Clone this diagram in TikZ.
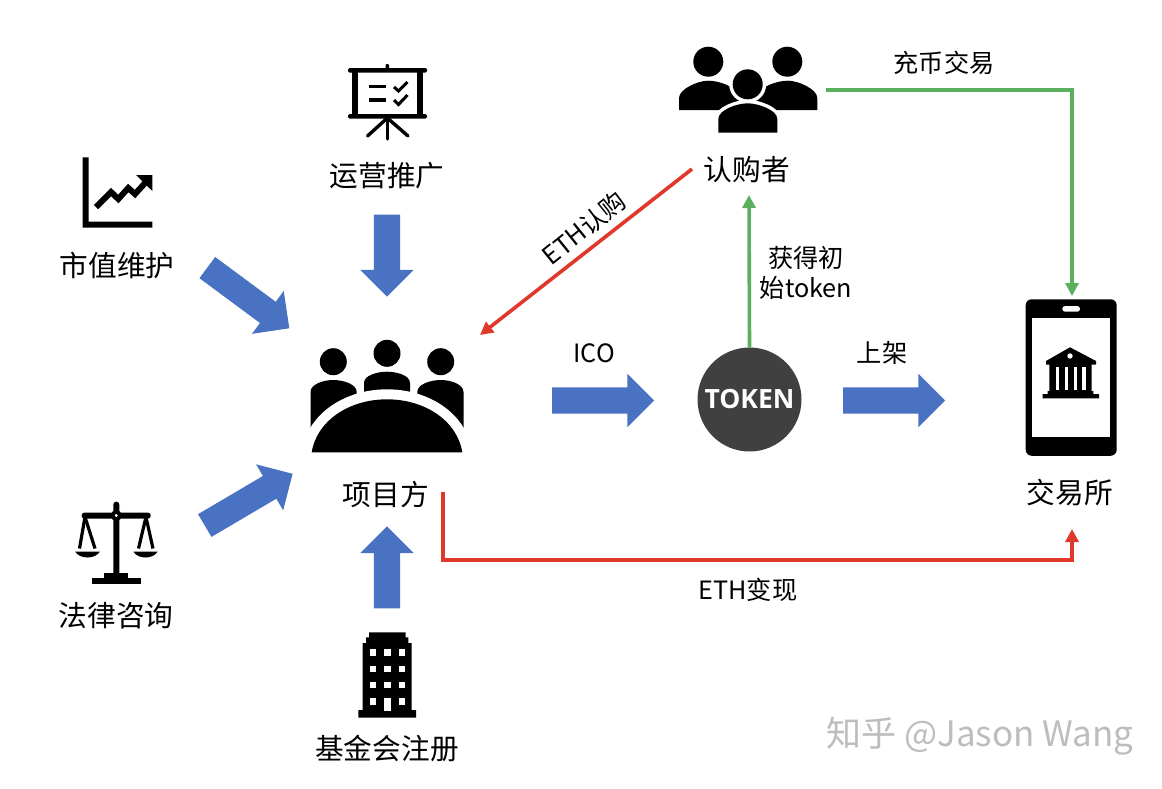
\documentclass[tikz,border=0pt]{standalone}
\usepackage{fontspec}
\setmainfont{Noto Sans CJK SC}
\newfontfamily\latfont{Open Sans}
\usetikzlibrary{arrows.meta,shapes.arrows,calc}
\definecolor{wideblue}{HTML}{4A72C2}
\definecolor{linered}{HTML}{E0392B}
\definecolor{linegreen}{HTML}{5BB05F}
\definecolor{tokengray}{HTML}{404040}
\definecolor{markgray}{HTML}{BDBDBD}
\tikzset{
  widearrow/.style={single arrow,draw=none,fill=wideblue,minimum width=53pt,
    single arrow head extend=13.5pt,single arrow head indent=0pt,single arrow tip angle=90,
    inner xsep=0pt,inner ysep=13pt,outer sep=0pt,anchor=center},
  biglabel/.style={font=\fontsize{28.7}{32}\selectfont,inner sep=0pt,anchor=center},
  smalllabel/.style={font=\fontsize{25.2}{30}\selectfont,inner sep=0pt,anchor=center},
  redline/.style={draw=linered,line width=3.6pt,-{Triangle[length=13pt,width=13pt]}},
  greenline/.style={draw=linegreen,line width=3.6pt,-{Triangle[length=13pt,width=13pt]}},
  icon/.style={fill=black,draw=none},
  iconline/.style={draw=black,line cap=round},
  iconcut/.style={fill=white,draw=none},
}
\begin{document}
\begin{tikzpicture}[x=1pt,y=-1pt]
\useasboundingbox[fill=white] (0,0) rectangle (1162,788);

% presentation board icon
\fill[icon,rounded corners=1.5pt] (348,68) rectangle (427,72.5);
\fill[icon,rounded corners=1.5pt] (348,114) rectangle (427,118.5);
\fill[icon,rounded corners=1pt] (385.5,64) rectangle (389,69);
\fill[icon] (352,72) rectangle (358,114);
\fill[icon] (417,72) rectangle (423,114);
\draw[iconline,line width=3.4pt] (387.3,118) -- (387.3,139);
\draw[iconline,line width=3.4pt] (387.3,118) -- (367.5,136);
\draw[iconline,line width=3.4pt] (387.3,118) -- (408,136);
\draw[black,line width=3.3pt] (369,86.7) -- (386,86.7);
\draw[black,line width=3.3pt] (369,100) -- (386,100);
\draw[iconline,line width=3pt,line cap=butt] (394,87) -- (398.5,91) -- (407.5,82);
\draw[iconline,line width=3pt,line cap=butt] (394,100) -- (398.5,104.5) -- (407.5,95);

% chart icon
\fill[icon] (82.7,157.3) -- (88.7,157.3) -- (88.7,221.7) -- (152.3,221.7) -- (152.3,227.5) -- (82.7,227.5) -- cycle;
\draw[black,line width=6pt] (96,207) -- (111,192) -- (118.3,199) -- (128.3,188) -- (135,194) -- (146,182);
\fill[icon] (136,175) -- (152.3,175) -- (152.3,191) -- cycle;

% scales icon
\fill[icon,rounded corners=2.8pt] (113.3,501.7) rectangle (119.3,578);
\fill[icon,rounded corners=2.5pt] (81.7,512.7) rectangle (150.7,518.5);
\fill[icon] (116.3,515.5) circle (5.5pt);
\fill[iconcut] (116.3,515.5) circle (1.6pt);
\draw[black,line width=3.2pt] (85,517) -- (79.5,548.5);
\draw[black,line width=3.2pt] (85,517) -- (95,548.5);
\draw[black,line width=3.2pt] (146,517) -- (138.5,548.5);
\draw[black,line width=3.2pt] (146,517) -- (153,548.5);
\fill[icon] (75,551.5) .. controls (80,559.5) and (95,559.5) .. (100,551.5) -- cycle;
\fill[icon] (133.3,551.5) .. controls (138,559.5) and (153,559.5) .. (157.7,551.5) -- cycle;
\fill[icon] (104.3,573.3) rectangle (128.3,578);
\fill[icon] (92.3,577.5) rectangle (141,584);

% building icon
\fill[icon] (369,632.3) -- (405.7,632.3) -- (405.7,637.3) -- (408.3,637.3) -- (408.3,643) -- (411.7,643)
  -- (411.7,710) -- (416,710) -- (416,717.7) -- (358.3,717.7) -- (358.3,710) -- (362.7,710) -- (362.7,643)
  -- (366,643) -- (366,637.3) -- (369,637.3) -- cycle;
\foreach \cx in {373,387.3,402}{\foreach \cy in {652.3,668.7,685}{
  \fill[iconcut] (\cx-3.2,\cy-3.2) rectangle (\cx+3.2,\cy+3.2);}}
\fill[iconcut] (369.8,698.1) rectangle (376.2,704.5);
\fill[iconcut] (398.8,698.1) rectangle (405.2,704.5);
\fill[iconcut] (384.2,698.3) rectangle (390.6,710.6);

% meeting icon
\fill[icon] (387,353.3) circle (13.5pt);
\fill[icon] (333.3,361.7) circle (13.5pt);
\fill[icon] (440.7,361.7) circle (13.5pt);
\fill[icon] (364,395) -- (364,383) .. controls (364,375) and (378,371.7) .. (387,371.7)
  .. controls (396,371.7) and (410,375) .. (410,383) -- (410,395) -- cycle;
\fill[icon] (310.5,428) -- (310.5,392) .. controls (310.5,384) and (324,380) .. (333,380)
  .. controls (343,380) and (356.7,384) .. (356.7,392) -- (356.7,420) -- cycle;
\fill[icon] (463.5,428) -- (463.5,392) .. controls (463.5,384) and (450,380) .. (441,380)
  .. controls (431,380) and (417.3,384) .. (417.3,392) -- (417.3,420) -- cycle;
\path[fill=black,draw=white,line width=20pt] (311.7,452.3) .. controls (317,420) and (350,399.3) .. (387,399.3)
  .. controls (424,399.3) and (457,420) .. (462.3,452.3) -- cycle;
\fill[iconcut] (295,452.3) rectangle (480,470);
\fill[icon] (311.7,452.3) .. controls (317,420) and (350,399.3) .. (387,399.3)
  .. controls (424,399.3) and (457,420) .. (462.3,452.3) -- cycle;

% buyers icon
\fill[icon] (708.3,61.7) circle (15pt);
\fill[icon] (787.3,61.7) circle (15pt);
\fill[icon] (679,110) -- (679,98) .. controls (679,89) and (698,80.7) .. (708,80.7)
  .. controls (720,80.7) and (735,87) .. (740,95) -- (740,110) -- cycle;
\fill[icon] (817.3,110) -- (817.3,98) .. controls (817.3,89) and (798,80.7) .. (788,80.7)
  .. controls (776,80.7) and (761,87) .. (756,95) -- (756,110) -- cycle;
\path[draw=white,line width=7pt] (747.7,84.3) circle (15pt);
\path[fill=white,draw=white,line width=7pt] (718.3,132.7) -- (718.3,119) .. controls (718.3,110) and (737,103.3) .. (747.7,103.3)
  .. controls (758,103.3) and (777.3,110) .. (777.3,119) -- (777.3,132.7) -- cycle;
\fill[icon] (718.3,132.7) -- (718.3,119) .. controls (718.3,110) and (737,103.3) .. (747.7,103.3)
  .. controls (758,103.3) and (777.3,110) .. (777.3,119) -- (777.3,132.7) -- cycle;
\fill[icon] (747.7,84.3) circle (15pt);

% exchange phone icon
\node[draw=none,fill=black,rounded corners=6pt,minimum width=91pt,minimum height=156.5pt,inner sep=0pt,outer sep=0pt] (phone) at (1071.2,377.5) {};
\fill[iconcut] (1032.3,318.3) rectangle (1110,436.7);
\fill[iconcut,rounded corners=2.8pt] (1062.3,306) rectangle (1080,311.7);
\fill[icon] (1070,347.3) -- (1096,361) -- (1096,364.5) -- (1091.7,364.5) -- (1091.7,391) -- (1093.3,391) -- (1093.3,394) -- (1099,394) -- (1099,398.3)
  -- (1042.7,398.3) -- (1042.7,394) -- (1047.7,394) -- (1047.7,391) -- (1049.3,391) -- (1049.3,364.5) -- (1046,364.5) -- (1046,361) -- cycle;
\fill[iconcut] (1070,356) circle (2.7pt);
\foreach \gx in {1055.7,1065,1073.5,1082.3}{\fill[iconcut] (\gx,367.3) rectangle (\gx+3.4,390);}

% token
\node[circle,fill=tokengray,draw=none,minimum size=104pt,inner sep=0pt,outer sep=0pt,text=white,font=\latfont\bfseries\fontsize{26.5}{28}\selectfont] (token) at (749.5,399.5) {TOKEN};

% wide arrows
\node[widearrow,minimum height=82pt,rotate=-90] (arrowTop) at (387,249) {};
\node[widearrow,minimum height=82pt,rotate=90] (arrowBottom) at (387,574) {};
\node[widearrow,minimum height=102pt,rotate=-36.5] (arrowUpperLeft) at (243,294) {};
\node[widearrow,minimum height=102pt,rotate=30.5] (arrowLowerLeft) at (243,503) {};
\node[widearrow,minimum height=102pt] (arrowICO) at (596.5,400.5) {};
\node[widearrow,minimum height=102pt] (arrowList) at (887.5,400.5) {};

% labels
\node[biglabel] (lblOps) at (387,176) {运营推广};
\node[biglabel] (lblCap) at (117,266) {市值维护};
\node[biglabel] (lblLaw) at (116,616) {法律咨询};
\node[biglabel] (lblFund) at (387,749) {基金会注册};
\node[biglabel] (lblProject) at (386,495) {项目方};
\node[biglabel] (lblBuyers) at (747,170) {认购者};
\node[biglabel] (lblExchange) at (1070,493) {交易所};
\node[smalllabel] (lblDeposit) at (944,63) {充币交易};
\node[smalllabel,rotate=39] (lblSub) at (584,228) {ETH认购};
\node[smalllabel,align=center] (lblInit) at (806,272.5) {获得初\\始token};
\node[smalllabel] (lblICO) at (594,353) {ICO};
\node[smalllabel] (lblListing) at (882,353) {上架};
\node[smalllabel] (lblCash) at (748,590) {ETH变现};
\node[inner sep=0pt,text=markgray,font=\fontsize{35}{38}\selectfont] (watermark) at (980,736) {知乎 @Jason Wang};

% connector ends
\coordinate (buyersEast) at (826,90);
\coordinate (subStart) at (692,169);
\coordinate (meetingNE) at (480,335);
\coordinate (projectEnd) at (443,492);
\coordinate (cashCorner) at (1072,560);
\coordinate (phoneTop) at (1072,296);
\coordinate (exchBottom) at (1072,529);
\coordinate (buyersLabelBelow) at (749,195);

% connectors
\draw[redline] (subStart) -- (meetingNE);
\draw[greenline] (token.north) -- (buyersLabelBelow);
\draw[greenline] (buyersEast) -| (phoneTop);
\draw[redline] (projectEnd) |- (cashCorner) -- (exchBottom);
\end{tikzpicture}
\end{document}
